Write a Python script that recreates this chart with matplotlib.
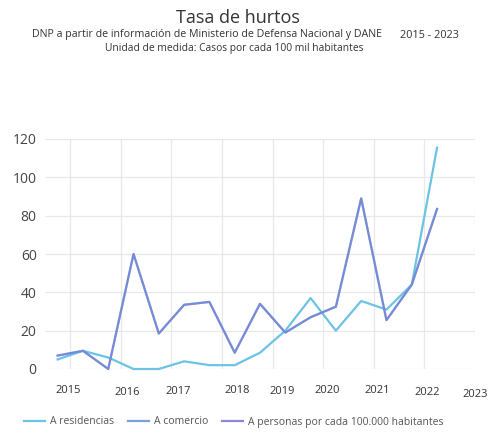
import numpy as np
import matplotlib
matplotlib.use("Agg")
import matplotlib.pyplot as plt

# values (16 points, half-year steps)
residencias = [5, 9.5, 6, 0, 0, 4, 2, 2, 8.5, 20, 37, 20, 35.5, 31, 44, 115.5]
comercio = [7, 9.5, 0, 60, 18.5, 33.5, 35, 8.5, 34, 19, 27, 32.5, 89, 25.5, 44, 83.5]
personas = [7, 9.5, 0, 60, 18.5, 33.5, 35, 8.5, 34, 19, 27, 32.5, 89, 25.5, 44, 83.5]
year_labels = ["2015", "2016", "2017", "2018", "2019", "2020", "2021", "2022", "2023"]
y_ticks = [0, 20, 40, 60, 80, 100, 120]

# where the year labels sit under the axis (they are not aligned to the grid)
label_x = [0.40, 2.73, 4.75, 7.08, 8.86, 10.65, 12.62, 14.6, 16.5]
label_y = [-0.095, -0.104, -0.1, -0.095, -0.1, -0.095, -0.095, -0.104, -0.113]

plt.rcParams["font.family"] = ["Open Sans", "DejaVu Sans"]

fig = plt.figure(figsize=(4.93, 4.33), dpi=100)
ax = fig.add_axes([45 / 493, 64 / 433, 430 / 493, 230 / 433])

x = np.arange(len(residencias))
ax.plot(x, residencias, color="#6cc3e4", lw=1.6, clip_on=False, zorder=3)
ax.plot(x, comercio, color="#6b92d8", lw=1.6, clip_on=False, zorder=4)
ax.plot(x, personas, color="#8a80d4", lw=1.6, alpha=0.4, clip_on=False, zorder=5)

ax.set_xlim(-0.5, 16.5)
ax.set_ylim(0, 120)
ax.set_yticks(y_ticks)
ax.set_yticklabels([str(v) for v in y_ticks], fontsize=10, color="#444444")
ax.set_xticks([])
ax.tick_params(axis="y", length=0, pad=6)

for v in y_ticks:
    ax.axhline(v, color="#e8e8e8", lw=0.9, zorder=1)
for gx in np.arange(0.5, 17, 2):
    ax.axvline(gx, color="#e8e8e8", lw=0.9, zorder=1)
for s in ax.spines.values():
    s.set_visible(False)

for lab, lx, ly in zip(year_labels, label_x, label_y):
    ax.text(lx, ly, lab, transform=ax.get_xaxis_transform(), ha="center", va="center",
            fontsize=8, color="#333333")

# titles
fig.text(238 / 493, 1 - 18 / 433, "Tasa de hurtos", ha="center", va="center", fontsize=13, color="#333333")
fig.text(207 / 493, 1 - 34 / 433, "DNP a partir de información de Ministerio de Defensa Nacional y DANE",
         ha="center", va="center", fontsize=7.7, color="#333333")
fig.text(429 / 493, 1 - 35 / 433, "2015 - 2023", ha="center", va="center", fontsize=7.8, color="#333333")
fig.text(234 / 493, 1 - 48 / 433, "Unidad de medida: Casos por cada 100 mil habitantes",
         ha="center", va="center", fontsize=7.4, color="#333333")

# legend
handles = [
    plt.Line2D([0], [0], color="#6cc3e4", lw=1.6, label="A residencias"),
    plt.Line2D([0], [0], color="#7aa0dc", lw=1.6, label="A comercio"),
    plt.Line2D([0], [0], color="#8a86d8", lw=1.6, label="A personas por cada 100.000 habitantes"),
]
leg = fig.legend(handles=handles, loc="center", bbox_to_anchor=(234 / 493, 1 - 422 / 433), ncol=3,
                 frameon=False, fontsize=7.5, handlelength=2.0, handletextpad=0.5, columnspacing=1.3)
for t in leg.get_texts():
    t.set_color("#555555")

fig.savefig("out.png", dpi=100)
